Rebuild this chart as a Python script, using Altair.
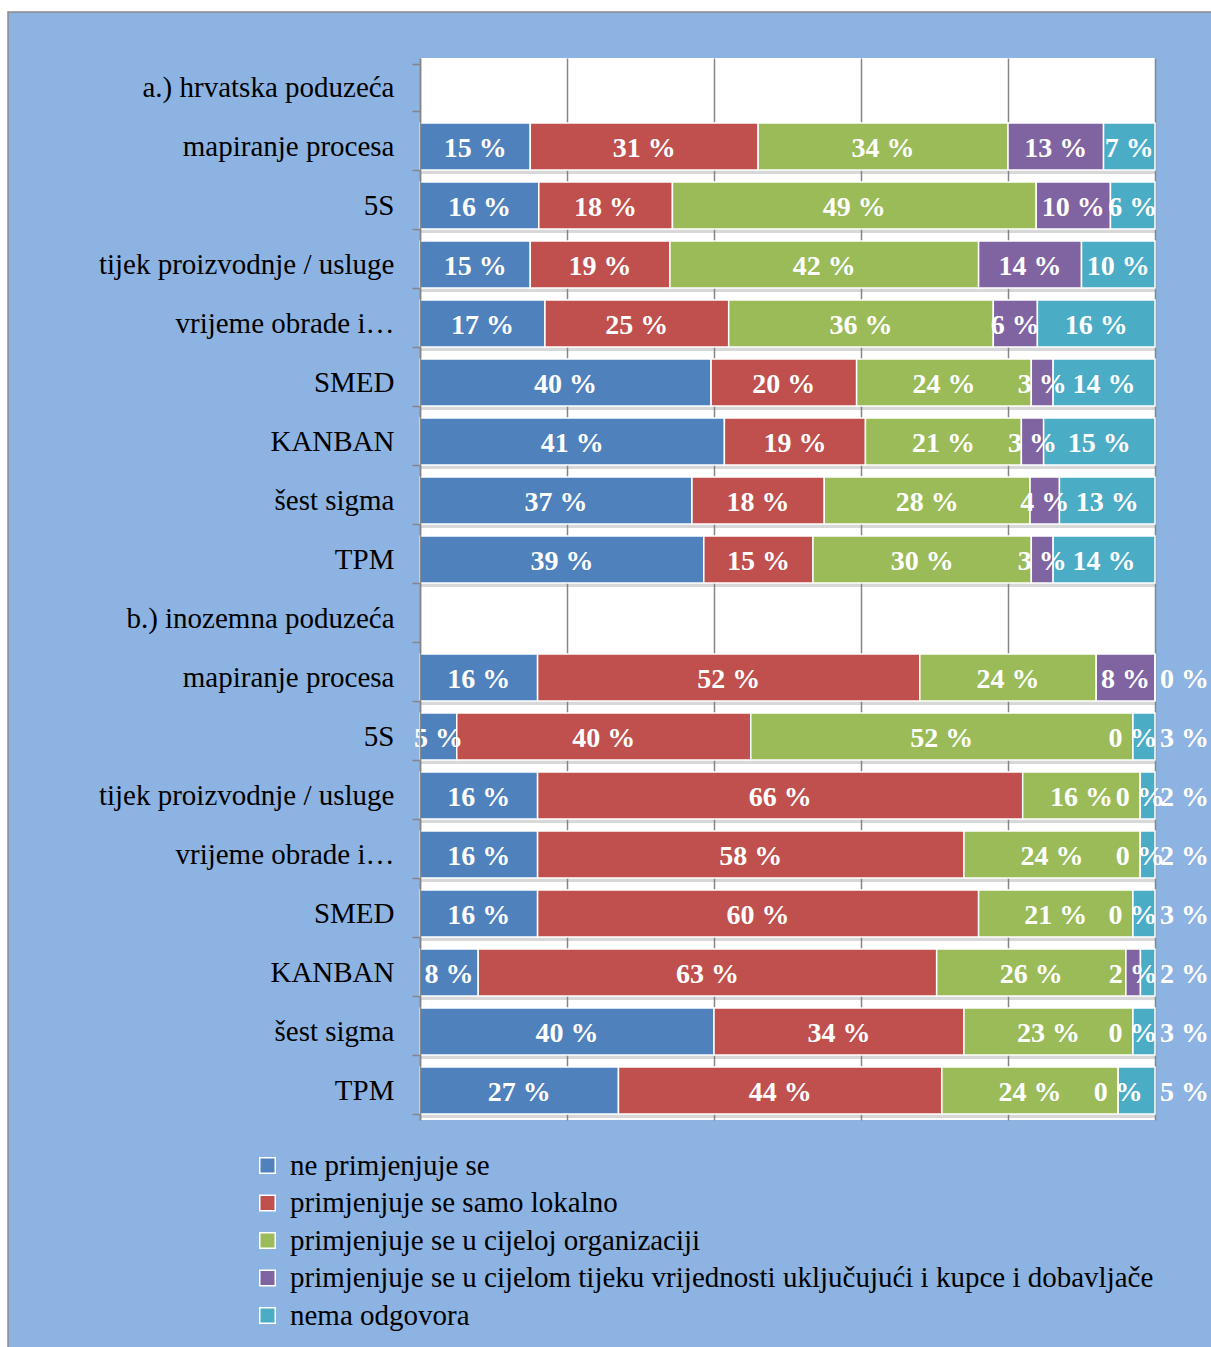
import altair as alt
import pandas as pd

# Response categories (stack order) and their colours
series = [
    "ne primjenjuje se",
    "primjenjuje se samo lokalno",
    "primjenjuje se u cijeloj organizaciji",
    "primjenjuje se u cijelom tijeku vrijednosti uključujući i kupce i dobavljače",
    "nema odgovora",
]
colors = ["#4F81BD", "#C0504D", "#9BBB59", "#8064A2", "#4BACC6"]

section_titles = ["a.) hrvatska poduzeća", "b.) inozemna poduzeća"]

methods = [
    "mapiranje procesa",
    "5S",
    "tijek proizvodnje / usluge",
    "vrijeme obrade i…",
    "SMED",
    "KANBAN",
    "šest sigma",
    "TPM",
]

# Shares in % per method, one list per response category order
hr_values = [
    [15, 31, 34, 13, 7],
    [16, 18, 49, 10, 6],
    [15, 19, 42, 14, 10],
    [17, 25, 36, 6, 16],
    [40, 20, 24, 3, 14],
    [41, 19, 21, 3, 15],
    [37, 18, 28, 4, 13],
    [39, 15, 30, 3, 14],
]
foreign_values = [
    [16, 52, 24, 8, 0],
    [5, 40, 52, 0, 3],
    [16, 66, 16, 0, 2],
    [16, 58, 24, 0, 2],
    [16, 60, 21, 0, 3],
    [8, 63, 26, 2, 2],
    [40, 34, 23, 0, 3],
    [27, 44, 24, 0, 5],
]

row_keys = []
records = []
for s, (title, table) in enumerate(zip(section_titles, [hr_values, foreign_values])):
    row_keys.append(f"{s}|{title}")
    for m, vals in zip(methods, table):
        key = f"{s}|{m}"
        row_keys.append(key)
        for i, (name, v) in enumerate(zip(series, vals)):
            records.append(dict(row=key, section=s, series=name, order=i,
                                value=v, label=f"{v} %"))
df = pd.DataFrame(records)

SERIF = "Liberation Serif"
GRID = "#868686"

x_scale = alt.Scale(domain=[0, 1], nice=False, zero=True)
x_axis = alt.Axis(values=[0, 0.2, 0.4, 0.6, 0.8, 1.0], grid=True, gridColor=GRID,
                  gridWidth=1.5, labels=False, ticks=False, domain=False,
                  title=None, zindex=0)
y_enc = alt.Y(
    "row:N",
    scale=alt.Scale(domain=row_keys, paddingInner=0.2, paddingOuter=0.1),
    axis=alt.Axis(title=None, labelExpr="split(datum.label, '|')[1]",
                  labelFont=SERIF, labelFontSize=29, labelColor="black",
                  labelPadding=18, labelLimit=500, tickSize=8, tickColor=GRID,
                  tickWidth=1.5, domainColor=GRID, domainWidth=1.5,
                  tickBand="extent", zindex=1),
)

base = alt.Chart(df).transform_stack(
    stack="value", groupby=["row"], as_=["x0", "x1"],
    sort=[alt.SortField("order")], offset="normalize",
).transform_calculate(mid="(datum.x0 + datum.x1) / 2")

shadow = base.mark_bar(color="#7F7F7F", opacity=0.3, yOffset=4).encode(
    x=alt.X("x0:Q", scale=x_scale, axis=x_axis), x2="x1:Q", y=y_enc,
)

bars = base.mark_bar(stroke="white", strokeWidth=1.5).encode(
    x=alt.X("x0:Q", scale=x_scale, axis=x_axis),
    x2="x1:Q",
    y=y_enc,
    color=alt.Color(
        "series:N",
        scale=alt.Scale(domain=series, range=colors),
        legend=alt.Legend(title=None, orient="none", legendX=-167, legendY=1093,
                          direction="vertical", symbolType="square",
                          symbolSize=240, symbolStrokeColor="white",
                          symbolStrokeWidth=1.5, symbolOpacity=1,
                          labelFont=SERIF, labelFontSize=29, labelColor="black",
                          rowPadding=7.5, labelOffset=8, labelLimit=1000,
                          zindex=1),
    ),
    order=alt.Order("order:Q"),
)

is_outside = "datum.section == 1 && datum.order == 4"
text_style = dict(font=SERIF, fontSize=28, fontWeight="bold", color="white",
                  baseline="middle", dy=2)

labels_mid = base.transform_filter(f"!({is_outside})").mark_text(**text_style).encode(
    x=alt.X("mid:Q", scale=x_scale, axis=x_axis), y=y_enc, text="label:N",
)
labels_end = base.transform_filter(is_outside).mark_text(
    align="left", dx=5, **text_style
).encode(
    x=alt.X("x1:Q", scale=x_scale, axis=x_axis), y=y_enc, text="label:N",
)

# Page frame: white margin strips and a thin grey border around the panel
dummy = pd.DataFrame({"d": [0]})
strip_top = alt.Chart(dummy).mark_rect(color="white").encode(
    x=alt.value(-430), x2=alt.value(820), y=alt.value(-70), y2=alt.value(-46))
strip_left = alt.Chart(dummy).mark_rect(color="white").encode(
    x=alt.value(-430), x2=alt.value(-412), y=alt.value(-70), y2=alt.value(1300))
frame = alt.Chart(dummy).mark_rect(fill="transparent", stroke="#8A8A8A",
                                   strokeWidth=1.5).encode(
    x=alt.value(-412), x2=alt.value(820), y=alt.value(-46), y2=alt.value(1320))

chart = alt.layer(
    strip_top, strip_left, frame, shadow, bars, labels_mid, labels_end
).properties(
    width=735,
    height=1062,
    autosize=alt.AutoSizeParams(type="none"),
    padding={"left": 420, "top": 58, "right": 56, "bottom": 227},
    background="#8DB3E2",
).configure_view(fill="white", stroke=None)

chart.save("out.html", embed_options={"renderer": "svg", "actions": False})
